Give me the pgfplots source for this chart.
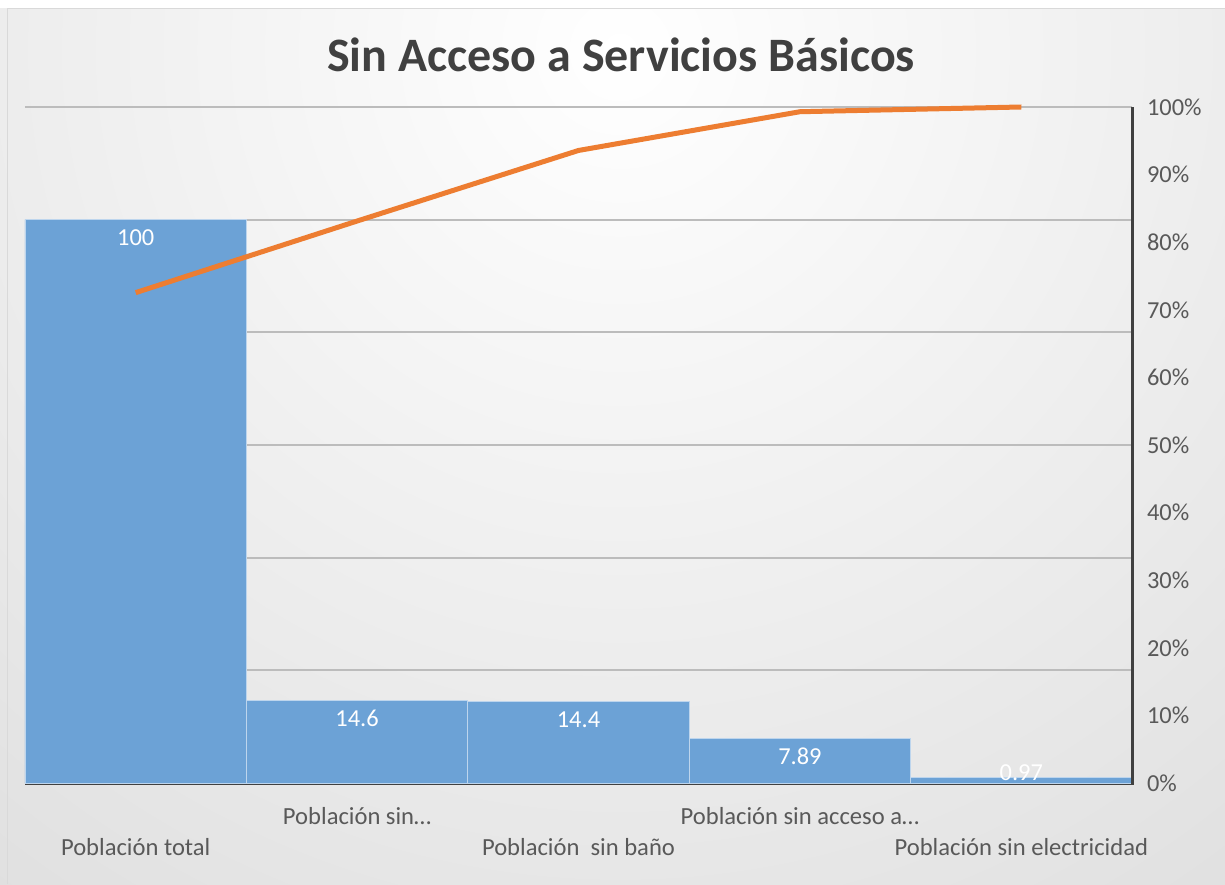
\documentclass[border=0pt]{standalone}
\usepackage{pgfplots}
\pgfplotsset{compat=1.18}
\usepackage{fontspec}
\setmainfont{Carlito}
\definecolor{barblue}{RGB}{108,162,214}
\definecolor{lineorange}{RGB}{237,125,49}
\definecolor{axisdark}{RGB}{64,64,64}
\definecolor{txtgray}{RGB}{89,89,89}
\definecolor{gridgray}{RGB}{188,188,188}
\definecolor{bgedge}{RGB}{190,190,190}
\pgfdeclareradialshading{bgshade}{\pgfpoint{0bp}{0bp}}{color(0bp)=(white); color(50bp)=(bgedge)}
\newcommand\lifted[1]{\raisebox{11.3pt}[\height][\depth]{#1}}
\begin{document}
\begin{tikzpicture}
\path[use as bounding box] (0,0) rectangle (612.5pt,442pt);
\fill[white] (0,0) rectangle (612.5pt,442pt);
\begin{scope}
\clip (0,0) rectangle (612.5pt,437.5pt);
\shade[shading=bgshade] (310pt,417pt) circle (550pt);
\end{scope}
\draw[gray!30, line width=0.5pt] (3.5pt,0) -- (3.5pt,437.5pt) -- (612.5pt,437.5pt);
\node[font=\bfseries\fontsize{24}{28}\selectfont, text=axisdark] at (310.5pt,414.5pt) {Sin Acceso a Servicios Básicos};

\begin{axis}[
  at={(12.5pt,50.5pt)}, anchor=south west,
  width=553.5pt, height=338pt, scale only axis,
  xmin=-0.5, xmax=4.5, ymin=0, ymax=120,
  axis x line*=bottom, axis y line*=left,
  y axis line style={draw=none},
  x axis line style={axisdark, line width=1.5pt, -},
  ytick={20,40,60,80,100,120}, yticklabels={},
  ymajorgrids, grid style={gridgray, line width=1pt},
  major tick length=0pt,
  xtick={0,1,2,3,4},
  xticklabels={{\strut\\\strut Población total},{\strut Población sin…},{\strut\\\strut Población~ sin baño},{\strut Población sin acceso a…},{\strut\\\strut Población sin electricidad}},
  xticklabel style={align=center, anchor=north, text=txtgray, font=\fontsize{12.3}{15.5}\selectfont, yshift=-6.3pt},
]
\addplot[ybar, bar width=1, bar shift=0pt, fill=barblue, draw=white!55!barblue, line width=0.4pt,
  point meta=explicit symbolic, nodes near coords,
  nodes near coords style={anchor=center, yshift=-9pt, text=white, font=\fontsize{12.2}{14}\selectfont}]
  coordinates {(0,100)[100] (1,14.6)[14.6] (2,14.4)[14.4] (3,7.89)[7.89] (4,0.97)[\lifted{0.97}]};
\end{axis}

\begin{axis}[
  at={(12.5pt,50.5pt)}, anchor=south west,
  width=553.5pt, height=338pt, scale only axis,
  xmin=-0.5, xmax=4.5, ymin=0, ymax=100,
  axis x line=none, axis y line*=right,
  y axis line style={axisdark, line width=1.5pt, -, shorten <=-0.75pt},
  ytick={0,10,20,30,40,50,60,70,80,90,100},
  yticklabels={0\%,10\%,20\%,30\%,40\%,50\%,60\%,70\%,80\%,90\%,100\%},
  yticklabel style={anchor=west, text=txtgray, font=\fontsize{12.2}{14}\selectfont, xshift=4pt},
  major tick length=0pt,
  clip=false,
]
\addplot[lineorange, line width=2.5pt, mark=none] coordinates {(0,72.54) (1,83.13) (2,93.57) (3,99.30) (4,100)};
\end{axis}
\end{tikzpicture}
\end{document}
